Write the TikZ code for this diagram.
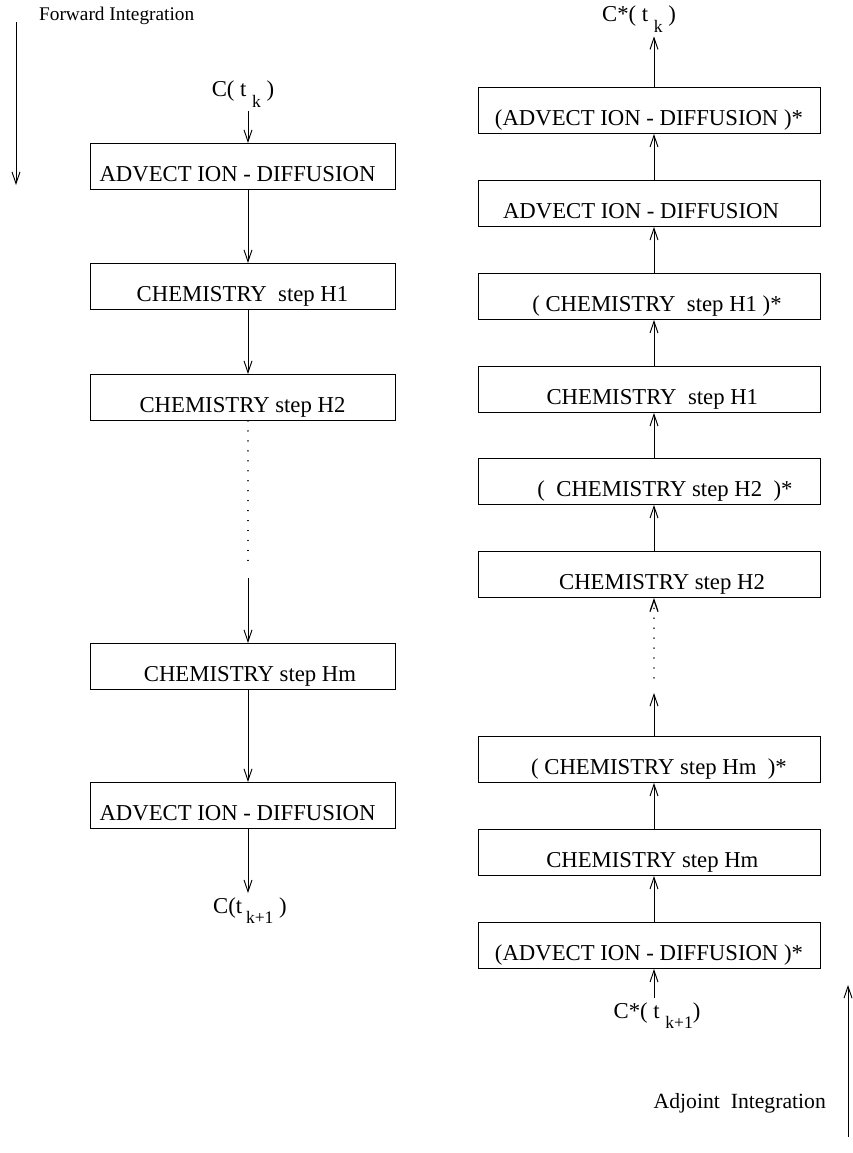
\documentclass[tikz,border=0pt]{standalone}
\usepackage{fontspec}
\setmainfont{Liberation Serif}
\usetikzlibrary{arrows.meta}
\newcommand{\lowidx}[1]{\raisebox{-0.45em}{\fontsize{15}{17}\selectfont #1}}
\begin{document}
\begin{tikzpicture}[x=0.03cm, y=-0.03cm,
    every node/.style={font=\fontsize{19.4}{23}\selectfont},
    box/.style={draw, line width=0.8pt, anchor=north, inner sep=0pt,
                text height=1.14cm, text depth=0.24cm},
    fbox/.style={box, minimum width=9.15cm},
    abox/.style={box, minimum width=10.26cm},
    arr/.style={line width=0.8pt, -{Straight Barb[length=3.5mm,width=2.4mm]}},
    dots/.style={line width=1.1pt, line cap=round, dash pattern=on 0.1pt off 8.4pt}]
    \useasboundingbox (0,0) rectangle (853,1153);

    % Forward integration (left column)
    \coordinate (fx) at (248,0);
    \node[anchor=base west, font=\fontsize{16.5}{19}\selectfont] (fwdtxt) at (35,21) {Forward Integration};
    \coordinate (fwdtop) at (16,22);
    \coordinate (fwdbot) at (16,185);
    \draw[arr] (fwdtop) -- (fwdbot);

    \node[anchor=base] (ctk) at (243,97) {C( t \lowidx{k} )};
    \node[fbox] (fadv1) at (242.5,143) {ADVECT ION - DIFFUSION\hspace*{0.3cm}};
    \node[fbox] (fchem1) at (242.5,263) {CHEMISTRY\ \ step H1};
    \node[fbox] (fchem2) at (242.5,374) {CHEMISTRY step H2};
    \node[fbox] (fchemm) at (242.5,643) {\hspace*{0.45cm}CHEMISTRY step Hm};
    \node[fbox] (fadv2) at (242.5,782) {ADVECT ION - DIFFUSION\hspace*{0.3cm}};
    \node[anchor=base] (ctk1) at (250,913) {C(t\,\lowidx{k+1}\ )};
    \coordinate (fdotend) at (248,565);
    \coordinate (fgo) at (248,578);

    \draw[arr] (ctk.south -| fx) -- (fadv1.north -| fx);
    \draw[arr] (fadv1.south -| fx) -- (fchem1.north -| fx);
    \draw[arr] (fchem1.south -| fx) -- (fchem2.north -| fx);
    \draw[dots] (fchem2.south -| fx) -- (fdotend);
    \draw[arr] (fgo) -- (fchemm.north -| fx);
    \draw[arr] (fchemm.south -| fx) -- (fadv2.north -| fx);
    \draw[arr] (fadv2.south -| fx) -- (ctk1.north -| fx);

    % Adjoint integration (right column)
    \coordinate (ax) at (654,0);
    \node[anchor=base east, font=\fontsize{18.5}{22}\selectfont] (adjtxt) at (830,1108) {Adjoint\ \ Integration};
    \coordinate (adjbot) at (848,1137);
    \coordinate (adjtop) at (848,985);
    \draw[arr] (adjbot) -- (adjtop);

    \node[anchor=base] (actk) at (639,22) {C*( t \lowidx{k} )};
    \node[abox] (aadv1s) at (649,87) {(ADVECT ION - DIFFUSION )*};
    \node[abox] (aadv1) at (649,180) {ADVECT ION - DIFFUSION\hspace*{0.48cm}};
    \node[abox] (achem1s) at (649,273) {\hspace*{0.48cm}( CHEMISTRY\ \ step H1 )*};
    \node[abox] (achem1) at (649,366) {\hspace*{0.2cm}CHEMISTRY\ \ step H1};
    \node[abox] (achem2s) at (649,458) {\hspace*{0.96cm}(\ \ CHEMISTRY step H2\ \ )*};
    \node[abox] (achem2) at (649,551) {\hspace*{0.78cm}CHEMISTRY step H2};
    \node[abox] (achemms) at (649,736) {\hspace*{0.6cm}( CHEMISTRY step Hm\ \ )*};
    \node[abox] (achemm) at (649,829) {\hspace*{0.2cm}CHEMISTRY step Hm};
    \node[abox] (aadv2s) at (649,922) {(ADVECT ION - DIFFUSION )*};
    \node[anchor=base] (actk1) at (657,1018) {C*( t \lowidx{k+1})};
    \coordinate (astop) at (654,693);
    \coordinate (adotbeg) at (654,678);

    \draw[arr] (actk1.north -| ax) -- (aadv2s.south -| ax);
    \draw[arr] (aadv2s.north -| ax) -- (achemm.south -| ax);
    \draw[arr] (achemm.north -| ax) -- (achemms.south -| ax);
    \draw[arr] (achemms.north -| ax) -- (astop);
    \draw[dots, -{Straight Barb[length=3.5mm,width=2.4mm]}] (adotbeg) -- (achem2.south -| ax);
    \draw[arr] (achem2.north -| ax) -- (achem2s.south -| ax);
    \draw[arr] (achem2s.north -| ax) -- (achem1.south -| ax);
    \draw[arr] (achem1.north -| ax) -- (achem1s.south -| ax);
    \draw[arr] (achem1s.north -| ax) -- (aadv1.south -| ax);
    \draw[arr] (aadv1.north -| ax) -- (aadv1s.south -| ax);
    \draw[arr] (aadv1s.north -| ax) -- (actk.south -| ax);
\end{tikzpicture}
\end{document}
